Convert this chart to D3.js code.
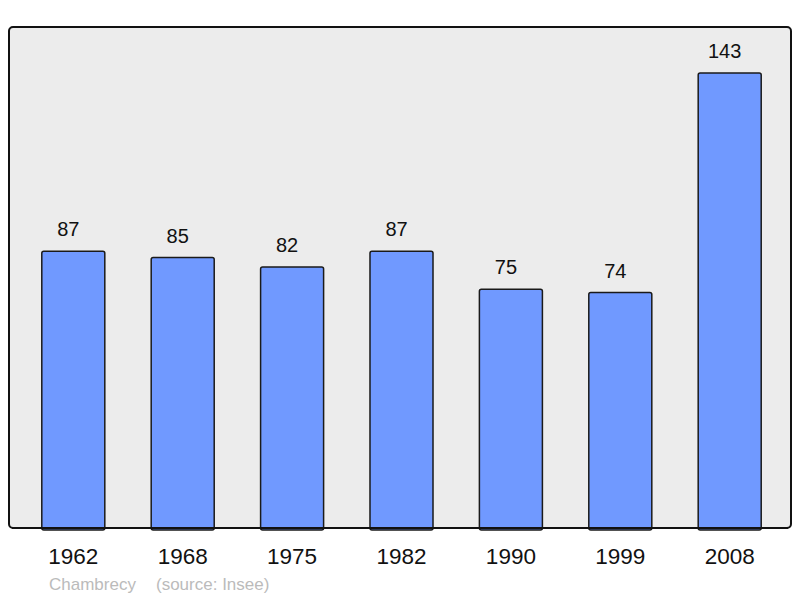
<!DOCTYPE html>
<html lang="en">
<head>
<meta charset="UTF-8">
<title>Chambrecy population</title>
<script src="https://d3js.org/d3.v7.min.js"></script>
<style>
    body { margin: 0; padding: 0; background: #ffffff; }
    svg { display: block; font-family: "Liberation Sans", Arial, sans-serif; }
</style>
</head>
<body>
<svg width="800" height="598"></svg>
<script>
    const years = ["1962", "1968", "1975", "1982", "1990", "1999", "2008"];
    const population = [87, 85, 82, 87, 75, 74, 143];
    const commune = "Chambrecy";
    const source = "(source: Insee)";

    const panel = { left: 9, top: 27, right: 791, bottom: 528 };

    const svg = d3.select("svg");

    svg.append("rect")
        .attr("x", panel.left)
        .attr("y", panel.top)
        .attr("width", panel.right - panel.left)
        .attr("height", panel.bottom - panel.top)
        .attr("rx", 4)
        .attr("fill", "#ececec")
        .attr("stroke", "#111")
        .attr("stroke-width", 2);

    const x = d3.scaleBand()
        .domain(years)
        .range([18, 785])
        .paddingInner(0.424)
        .paddingOuter(0.2175);

    const y = d3.scaleLinear()
        .domain([0, 143])
        .range([panel.bottom, 73]);

    const data = years.map((yr, i) => ({ year: yr, value: population[i] }));

    svg.selectAll("rect.bar").data(data).enter().append("rect")
        .attr("class", "bar")
        .attr("x", d => x(d.year))
        .attr("y", d => y(d.value))
        .attr("width", x.bandwidth())
        .attr("height", d => y(0) - y(d.value) + 2)
        .attr("rx", 2)
        .attr("fill", "#7099ff")
        .attr("stroke", "#1a1a1a")
        .attr("stroke-width", 1.5);

    // redraw the bottom edge of the panel over the bars
    svg.append("line")
        .attr("x1", panel.left + 3).attr("x2", panel.right - 3)
        .attr("y1", panel.bottom).attr("y2", panel.bottom)
        .attr("stroke", "#111")
        .attr("stroke-width", 2);

    // value labels sit a little left of the bar centre, as in the original
    svg.selectAll("text.value").data(data).enter().append("text")
        .attr("class", "value")
        .attr("x", d => x(d.year) + x.bandwidth() / 2 - 5)
        .attr("y", d => y(d.value) - 15)
        .attr("text-anchor", "middle")
        .attr("font-size", "20px")
        .attr("fill", "#111")
        .text(d => d.value);

    const xAxis = d3.axisBottom(x).tickSize(0).tickPadding(0);
    const axisG = svg.append("g")
        .attr("transform", `translate(0,${panel.bottom})`)
        .call(xAxis);
    axisG.select(".domain").remove();
    axisG.selectAll(".tick text")
        .attr("y", 36)
        .attr("dy", 0)
        .attr("font-size", "22.5px")
        .attr("font-family", "\"Liberation Sans\", Arial, sans-serif")
        .attr("fill", "#111");

    svg.append("text")
        .attr("x", 49)
        .attr("y", 590)
        .attr("font-size", "17px")
        .attr("fill", "#bbbbbb")
        .text(commune);

    svg.append("text")
        .attr("x", 156)
        .attr("y", 590)
        .attr("font-size", "17px")
        .attr("fill", "#bbbbbb")
        .text(source);
</script>
</body>
</html>
